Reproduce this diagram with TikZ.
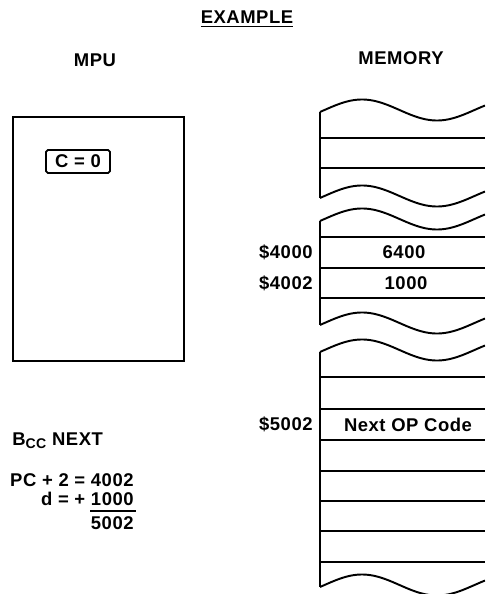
\documentclass[tikz,border=0pt]{standalone}
\usepackage{fontspec}
\setmainfont[LetterSpace=3]{Liberation Sans}
\usepackage{tikz}
\usetikzlibrary{positioning}

\begin{document}
\begin{tikzpicture}[
  x=0.02cm, y=-0.02cm,
  font=\fontsize{10.5}{12}\selectfont\bfseries,
  edge/.style={line width=1.1pt},
  regbox/.style={draw, line width=1pt, rounded corners=1pt,
                 minimum width=1.28cm, minimum height=0.46cm, inner sep=0pt},
  cell/.style={inner sep=0pt},
  addr/.style={anchor=east, inner sep=0pt}
]
\useasboundingbox (0,0) rectangle (485,594);

% headings
\node (title)  at (247,19) {\underline{EXAMPLE}};
\node (mpulbl) at (95,60)  {MPU};
\node (memlbl) at (401,58) {MEMORY};

% processor
\node[draw, line width=1.1pt, anchor=north west, minimum width=3.42cm,
      minimum height=4.88cm] (mpu) at (12,116) {};
\node[regbox] (carry) at (78,161.5) {C = 0};

% memory strips
\begin{scope}
\clip (0,0) rectangle (485,594);
\foreach \c in {110,196,219,323,350,585}
  \draw[edge] plot[domain=320:485, samples=80, smooth]
    (\x, {\c - 10.5*cos(2.4*(\x-362))});
\foreach \a/\b in {110/196, 219/323, 350/585}
  \draw[edge] (320,\a+2) -- (320,\b+2);
\foreach \y in {138,168,237,268,298,377,409,440,471,501,531,562}
  \draw[edge] (320,\y) -- (485,\y);
\end{scope}

% memory contents
\node[cell] (m4000) at (404,252.5) {6400};
\node[cell] (m4002) at (406,283)   {1000};
\node[cell] (m5002) at (408,424.5) {Next OP Code};
\node[addr] (a4000) at (313,252.5) {\$4000};
\node[addr] (a4002) at (313,283)   {\$4002};
\node[addr] (a5002) at (313,424.5) {\$5002};

% branch calculation
\node[anchor=west, inner sep=0pt] (instr) at (12,441)
  {B\raisebox{-0.35ex}{\footnotesize CC} NEXT};
\node[anchor=east, inner sep=0pt] (pcval) at (134,480) {PC + 2 = 4002};
\node[anchor=east, inner sep=0pt] (dval)  at (134,499) {d = + 1000};
\node[anchor=east, inner sep=0pt] (sum)   at (134,523) {5002};
\draw[line width=0.9pt] (90,511) -- (136,511);
\end{tikzpicture}
\end{document}
